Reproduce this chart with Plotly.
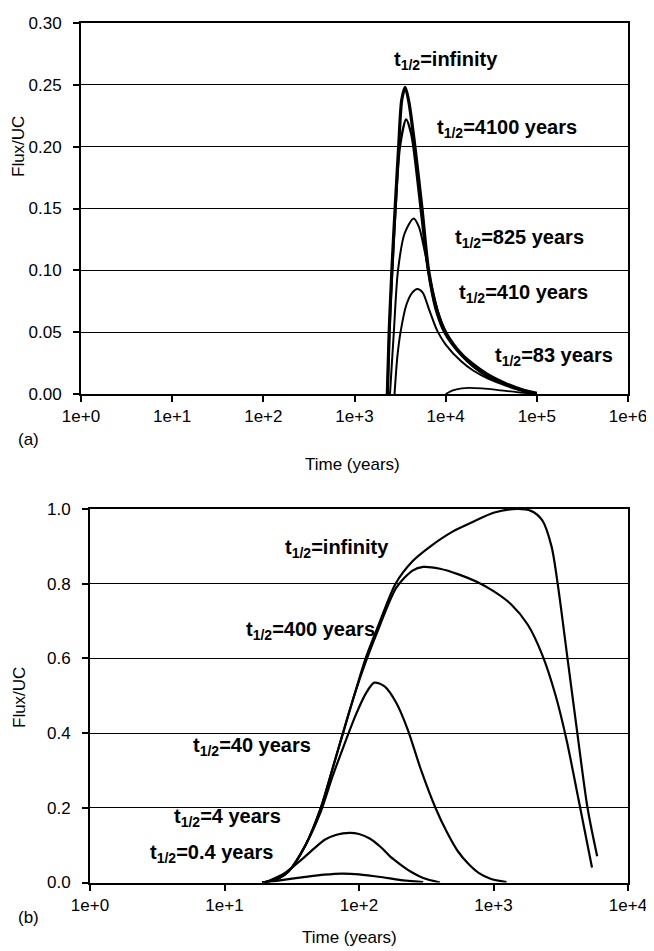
import plotly.graph_objects as go

W, H = 654, 951

# ---------------- Panel (a) data: time (years), Flux/UC ----------------
a_inf_t = [2290, 2400, 2570, 2790, 3050, 3300, 3600, 3950, 4600, 5500, 6500, 8000, 10000, 15000, 20000, 30000, 47000, 72000, 100000]
a_inf_y = [0.0, 0.05, 0.10, 0.15, 0.20, 0.238, 0.248, 0.236, 0.20, 0.15, 0.10, 0.068, 0.05, 0.032, 0.024, 0.015, 0.008, 0.003, 0.0005]

a_4100_t = [2300, 2410, 2590, 2820, 3150, 3680, 4200, 4600, 5500, 6400, 7800, 9800, 15000, 20000, 30000, 47000, 72000, 100000]
a_4100_y = [0.0, 0.05, 0.10, 0.15, 0.20, 0.222, 0.21, 0.19, 0.14, 0.10, 0.068, 0.049, 0.031, 0.023, 0.014, 0.0075, 0.0028, 0.0004]

a_825_t = [2450, 2700, 3000, 3550, 4450, 5100, 5900, 6900, 8300, 10000, 15000, 20000, 30000, 47000, 72000, 100000]
a_825_y = [0.0, 0.05, 0.10, 0.13, 0.142, 0.135, 0.115, 0.09, 0.066, 0.05, 0.031, 0.022, 0.013, 0.007, 0.0025, 0.0003]

a_410_t = [2750, 2950, 3200, 3700, 4300, 4900, 5600, 6600, 8100, 10000, 15000, 20000, 30000, 47000, 72000, 100000]
a_410_y = [0.0, 0.03, 0.05, 0.072, 0.082, 0.085, 0.082, 0.068, 0.051, 0.04, 0.026, 0.019, 0.012, 0.0065, 0.0022, 0.0003]

a_83_t = [10000, 12000, 15000, 18000, 25000, 40000, 60000, 100000]
a_83_y = [0.0, 0.003, 0.0045, 0.005, 0.0045, 0.003, 0.0015, 0.0]

# ---------------- Panel (b) data ----------------
b_inf_t = [19, 25, 30, 40, 52, 63, 76, 92, 112, 140, 187, 250, 340, 500, 700, 1000, 1500, 1900, 2300, 2700, 3000, 3550, 4200, 5000, 5900]
b_inf_y = [0.0, 0.01, 0.03, 0.1, 0.2, 0.3, 0.4, 0.5, 0.6, 0.69, 0.8, 0.86, 0.9, 0.94, 0.965, 0.99, 1.0, 0.995, 0.97, 0.9, 0.8, 0.6, 0.4, 0.2, 0.07]

b_400_t = [19, 25, 30, 40, 52, 63, 76, 92, 112, 140, 190, 250, 300, 400, 550, 750, 1000, 1350, 1800, 2300, 2900, 3500, 4300, 5400]
b_400_y = [0.0, 0.01, 0.03, 0.1, 0.2, 0.3, 0.4, 0.5, 0.59, 0.68, 0.79, 0.835, 0.845, 0.84, 0.825, 0.805, 0.78, 0.745, 0.69, 0.61, 0.5, 0.38, 0.22, 0.04]

b_40_t = [19, 25, 30, 40, 52, 63, 76, 95, 112, 130, 155, 190, 230, 290, 370, 450, 540, 650, 780, 950, 1250]
b_40_y = [0.0, 0.01, 0.03, 0.1, 0.19, 0.28, 0.36, 0.45, 0.505, 0.535, 0.525, 0.48, 0.41, 0.30, 0.20, 0.135, 0.085, 0.05, 0.025, 0.01, 0.001]

b_4_t = [20, 28, 37, 46, 56, 68, 85, 100, 120, 145, 170, 200, 240, 300, 400]
b_4_y = [0.0, 0.025, 0.06, 0.09, 0.115, 0.128, 0.133, 0.13, 0.118, 0.095, 0.07, 0.05, 0.03, 0.012, 0.0]

b_04_t = [20, 25, 40, 55, 75, 100, 150, 200, 300]
b_04_y = [0.0, 0.005, 0.015, 0.021, 0.024, 0.022, 0.014, 0.007, 0.001]

x_tick_a = [1, 10, 100, 1000, 10000, 100000, 1000000]
x_text_a = ["1e+0", "1e+1", "1e+2", "1e+3", "1e+4", "1e+5", "1e+6"]
x_tick_b = [1, 10, 100, 1000, 10000]
x_text_b = ["1e+0", "1e+1", "1e+2", "1e+3", "1e+4"]
y_tick_a = [0.0, 0.05, 0.10, 0.15, 0.20, 0.25, 0.30]
y_tick_b = [0.0, 0.2, 0.4, 0.6, 0.8, 1.0]

labels_a = ["t<sub>1/2</sub>=infinity", "t<sub>1/2</sub>=4100 years", "t<sub>1/2</sub>=825 years",
            "t<sub>1/2</sub>=410 years", "t<sub>1/2</sub>=83 years"]
labels_b = ["t<sub>1/2</sub>=infinity", "t<sub>1/2</sub>=400 years", "t<sub>1/2</sub>=40 years",
            "t<sub>1/2</sub>=4 years", "t<sub>1/2</sub>=0.4 years"]

# ---------------- layout helpers (pixel -> paper) ----------------
def px(x):
    return x / W

def py(y):
    return 1 - y / H

FONT = "Arial, Liberation Sans, sans-serif"

fig = go.Figure()

def add(t, y, xa, ya, w=2.0):
    fig.add_trace(go.Scatter(x=t, y=y, mode="lines", xaxis=xa, yaxis=ya,
                             line=dict(color="black", width=w, shape="spline", smoothing=0.8),
                             showlegend=False, hoverinfo="skip"))

add(a_inf_t, a_inf_y, "x", "y", 3.2)
add(a_4100_t, a_4100_y, "x", "y", 2.4)
add(a_825_t, a_825_y, "x", "y", 2.0)
add(a_410_t, a_410_y, "x", "y", 2.0)
add(a_83_t, a_83_y, "x", "y", 1.8)

add(b_inf_t, b_inf_y, "x2", "y2", 2.2)
add(b_400_t, b_400_y, "x2", "y2", 2.2)
add(b_40_t, b_40_y, "x2", "y2", 2.2)
add(b_4_t, b_4_y, "x2", "y2", 2.2)
add(b_04_t, b_04_y, "x2", "y2", 2.2)

axis_common = dict(showline=True, linecolor="black", linewidth=2, mirror=True,
                   ticks="outside", ticklen=6, tickwidth=1.5, tickcolor="black",
                   tickfont=dict(family=FONT, size=17, color="black"), automargin=False,
                   zeroline=False)

fig.update_layout(
    width=W, height=H,
    margin=dict(l=0, r=0, t=0, b=0),
    paper_bgcolor="white", plot_bgcolor="white",
    xaxis=dict(type="log", range=[0, 6], domain=[px(73), px(620)], anchor="y",
               tickvals=x_tick_a, ticktext=x_text_a, showgrid=False, **axis_common),
    yaxis=dict(range=[0, 0.30], domain=[py(386), py(15)], anchor="x",
               tickvals=y_tick_a, tickformat=".2f", showgrid=True, gridcolor="black", gridwidth=1,
               ticklabelstandoff=8, **axis_common),
    xaxis2=dict(type="log", range=[0, 4], domain=[px(82), px(620)], anchor="y2",
                tickvals=x_tick_b, ticktext=x_text_b, showgrid=False, **axis_common),
    yaxis2=dict(range=[0, 1.0], domain=[py(874.5), py(501)], anchor="x2",
                tickvals=y_tick_b, tickformat=".1f", showgrid=True, gridcolor="black", gridwidth=1,
                ticklabelstandoff=8, **axis_common),
)

ann = []
lab_font = dict(family=FONT, size=20, color="black")
pos_a = [(438, 53), (499, 120), (511, 230), (515, 285), (546, 349)]
pos_b = [(329, 540), (302, 622), (244, 738), (219, 809), (203, 845)]
for txt, (x, y) in zip(labels_a, pos_a):
    ann.append(dict(text="<b>" + txt + "</b>", x=px(x), y=py(y), xref="paper", yref="paper",
                    showarrow=False, font=lab_font, xanchor="center", yanchor="middle"))
for txt, (x, y) in zip(labels_b, pos_b):
    ann.append(dict(text="<b>" + txt + "</b>", x=px(x), y=py(y), xref="paper", yref="paper",
                    showarrow=False, font=lab_font, xanchor="center", yanchor="middle"))

title_font = dict(family=FONT, size=17, color="black")
ann += [
    dict(text="Flux/UC", x=px(11), y=py(139), xref="paper", yref="paper", showarrow=False,
         textangle=-90, font=title_font, xanchor="center", yanchor="middle"),
    dict(text="Flux/UC", x=px(11), y=py(690), xref="paper", yref="paper", showarrow=False,
         textangle=-90, font=title_font, xanchor="center", yanchor="middle"),
    dict(text="Time (years)", x=px(345), y=py(456), xref="paper", yref="paper", showarrow=False,
         font=title_font, xanchor="center", yanchor="middle"),
    dict(text="Time (years)", x=px(341), y=py(929), xref="paper", yref="paper", showarrow=False,
         font=title_font, xanchor="center", yanchor="middle"),
    dict(text="(a)", x=px(20), y=py(431), xref="paper", yref="paper", showarrow=False,
         font=title_font, xanchor="center", yanchor="middle"),
    dict(text="(b)", x=px(20), y=py(909), xref="paper", yref="paper", showarrow=False,
         font=title_font, xanchor="center", yanchor="middle"),
]
fig.update_layout(annotations=ann)

fig.write_html("out.html")
